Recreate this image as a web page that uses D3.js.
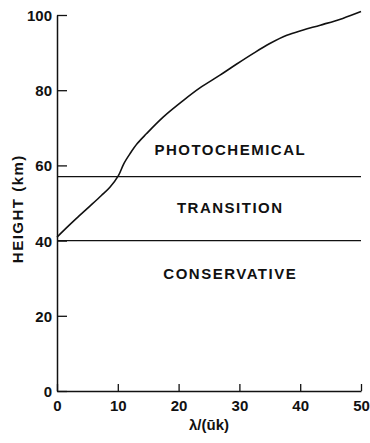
<!DOCTYPE html>
<html>
<head>
<meta charset="utf-8">
<script src="https://cdnjs.cloudflare.com/ajax/libs/d3/7.8.5/d3.min.js"></script>
<style>
  body { margin: 0; background: #fff; }
  svg text { font-family: "Liberation Sans", Arial, Helvetica, sans-serif; font-weight: bold; fill: #111; }
</style>
</head>
<body>
<div id="chart"></div>
<script>
// curve values
var lambdaValues = [0, 1.5, 3.2, 5.5, 7.3, 8.7, 10.1, 11, 12, 13.2, 14.7, 17.5, 20.8, 23.5, 26.8, 29.5, 32.3, 35, 37.8, 40.5, 43.3, 47, 50];
var heightValues = [40.9, 43.3, 45.9, 49.3, 52, 54.2, 57.3, 60.5, 63.1, 65.8, 68.4, 72.9, 77.3, 80.6, 84, 86.9, 89.8, 92.4, 94.6, 96.0, 97.3, 99.1, 100.9];

// regime boundaries (km) and region labels
var boundaries = [57, 40];
var regionNames = ["PHOTOCHEMICAL", "TRANSITION", "CONSERVATIVE"];
var regionHeights = [62.8, 47.3, 29.8];
var regionLambda = 28.5;

// ticks
var xTicks = [0, 10, 20, 30, 40, 50];
var yTicks = [0, 20, 40, 60, 80, 100];

var svgWidth = 370;
var svgHeight = 443;
var margin = { top: 15, right: 9, bottom: 52, left: 57 };
var width = svgWidth - margin.left - margin.right;
var height = svgHeight - margin.top - margin.bottom;

var svg = d3.select("#chart")
  .append("svg")
  .attr("width", svgWidth)
  .attr("height", svgHeight);

var chartGroup = svg.append("g")
  .attr("transform", `translate(${margin.left}, ${margin.top})`);

var xScale = d3.scaleLinear().domain([0, 50]).range([0, width]);
var yScale = d3.scaleLinear().domain([0, 100]).range([height, 0]);

// axes with inward ticks
var bottomAxis = d3.axisBottom(xScale)
  .tickValues(xTicks)
  .tickSizeInner(-7)
  .tickSizeOuter(0)
  .tickPadding(9);
var leftAxis = d3.axisLeft(yScale)
  .tickValues(yTicks)
  .tickSizeInner(-10)
  .tickSizeOuter(0)
  .tickPadding(5);

var xAxis = chartGroup.append("g")
  .attr("transform", `translate(0, ${height})`)
  .call(bottomAxis);
var yAxis = chartGroup.append("g")
  .call(leftAxis);

[xAxis, yAxis].forEach(function (ax) {
  ax.select(".domain").attr("stroke", "#111").attr("stroke-width", 1.5);
  ax.selectAll(".tick line").attr("stroke", "#111").attr("stroke-width", 1.3);
  ax.selectAll(".tick text")
    .attr("font-size", "15px")
    .attr("font-family", "'Liberation Sans', Arial, sans-serif")
    .attr("font-weight", "bold")
    .attr("fill", "#111");
});
yAxis.selectAll(".tick text").attr("dy", "0.36em");

// boundary lines
chartGroup.selectAll(".boundary")
  .data(boundaries)
  .enter()
  .append("line")
  .attr("class", "boundary")
  .attr("x1", xScale(0))
  .attr("x2", xScale(50))
  .attr("y1", d => yScale(d))
  .attr("y2", d => yScale(d))
  .attr("stroke", "#111")
  .attr("stroke-width", 1.2);

// the curve
var points = lambdaValues.map((v, i) => [v, heightValues[i]]);
var line = d3.line()
  .x(d => xScale(d[0]))
  .y(d => yScale(d[1]))
  .curve(d3.curveCatmullRom);
chartGroup.append("path")
  .datum(points)
  .attr("d", line)
  .attr("fill", "none")
  .attr("stroke", "#111")
  .attr("stroke-width", 1.6);

// region labels
chartGroup.selectAll(".region")
  .data(regionNames)
  .enter()
  .append("text")
  .attr("class", "region")
  .attr("x", xScale(regionLambda))
  .attr("y", (d, i) => yScale(regionHeights[i]))
  .attr("text-anchor", "middle")
  .attr("font-size", "15px")
  .attr("letter-spacing", "1.5px")
  .text(d => d);

// axis labels
chartGroup.append("text")
  .attr("x", width / 2)
  .attr("y", height + 39)
  .attr("text-anchor", "middle")
  .attr("font-size", "15px")
  .text("λ/(ūk)");

chartGroup.append("text")
  .attr("transform", `translate(${23 - margin.left}, ${yScale(48.5)}) rotate(-90)`)
  .attr("text-anchor", "middle")
  .attr("font-size", "15px")
  .attr("letter-spacing", "1.5px")
  .text("HEIGHT (km)");
</script>
</body>
</html>
